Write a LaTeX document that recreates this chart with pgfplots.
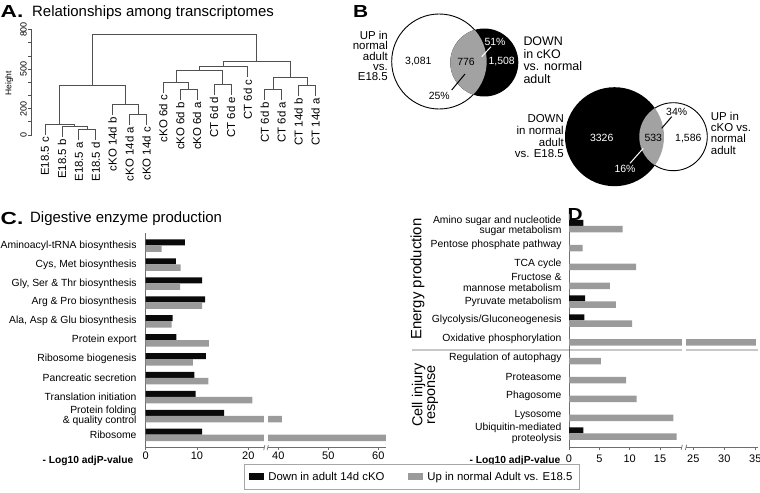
\documentclass[border=0pt]{standalone}
\usepackage{fontspec}
\setmainfont{Liberation Sans}
\usepackage{graphicx}
\usepackage{pgfplots}
\usepackage{pgfplotstable}
\pgfplotsset{compat=1.18}
\definecolor{barblack}{HTML}{0A0A0A}
\definecolor{bargray}{HTML}{9B9B9B}
\definecolor{venngray}{HTML}{A2A2A2}
\definecolor{axgray}{HTML}{6E6E6E}
\definecolor{dendro}{HTML}{505050}
\newcommand\fs[2]{\fontsize{#1}{#2}\selectfont}
\pgfplotsset{dline/.style={draw=dendro,solid,line width=0.75bp,mark=none}}

% Panel C: -log10 adjP ; y = row position (10 = top)
\pgfplotstableread{
y down up
10 7.66 3.1
9 5.9 6.8
8 11.0 6.7
7 11.6 11.0
6 5.25 5.05
5 6.0 12.3
4 11.75 9.2
3 9.5 12.2
2 9.75 20.8
1 15.3 40.7
0 11.0 61.5
}\Cdata

% Panel D
\pgfplotstableread{
y down up
11 2.36 8.84
10 nan 2.25
9 nan 11.04
8 nan 6.75
7 2.64 7.74
6 2.53 10.4
5 nan 35.1
4 nan 5.27
3 nan 9.39
2 nan 11.15
1 nan 17.19
0 2.36 17.74
}\Ddata

\begin{document}
\begin{tikzpicture}
\useasboundingbox (0,0) rectangle (760bp,493bp);

%================ canvas (pixel coordinates) =================
\begin{axis}[at={(0bp,0bp)},anchor=south west,scale only axis,
  width=760bp,height=493bp,xmin=0,xmax=760,ymin=0,ymax=493,
  y dir=reverse,hide axis,clip=false]
% titles
\node[anchor=base west,inner sep=0pt,font={\fs{17.5}{17.5}\bfseries}] at (axis cs:0.5,17.3) {\scalebox{1.3}[1]{A.}};
\node[anchor=base west,inner sep=0pt,font=\fs{15}{15}] at (axis cs:32,16.7) {Relationships among transcriptomes};
\node[anchor=base west,inner sep=0pt,font={\fs{17.5}{17.5}\bfseries}] at (axis cs:353,17.3) {\scalebox{1.2}[1]{B}};
\node[anchor=base west,inner sep=0pt,font={\fs{17.5}{17.5}\bfseries}] at (axis cs:0.5,224) {\scalebox{1.3}[1]{C.}};
\node[anchor=base west,inner sep=0pt,font=\fs{15}{15}] at (axis cs:30,222.7) {Digestive enzyme production};
\node[anchor=base west,inner sep=0pt,font={\fs{17.5}{17.5}\bfseries}] at (axis cs:567.5,220) {\scalebox{1.2}[1]{D}};
% dendrogram y label
\node[rotate=90,font=\fs{8.5}{8.5}] at (axis cs:9.3,83.3) {Height};

% Venn 1
\draw[black,line width=0.9bp,fill=white] (axis cs:439.2,61.5) circle[radius=47.5bp];
\fill[black] (axis cs:484.3,62.5) circle[radius=34bp];
\begin{scope}
\clip (axis cs:439.2,61.5) circle[radius=47.5bp];
\fill[venngray] (axis cs:484.3,62.5) circle[radius=34bp];
\end{scope}
\draw[white,line width=1bp] (axis cs:491,46.7) -- (axis cs:481.7,56.7);
\draw[black,line width=1bp] (axis cs:451.7,90) -- (axis cs:465,74);
\node[font=\fs{10.5}{10.5}] at (axis cs:418.3,61.7) {3,081};
\node[font=\fs{10.5}{10.5}] at (axis cs:466,61.7) {776};
\node[font=\fs{10.5}{10.5},text=white] at (axis cs:501.7,61.7) {1,508};
\node[font=\fs{10.5}{10.5},text=white] at (axis cs:495,42.3) {51\%};
\node[font=\fs{10.5}{10.5}] at (axis cs:439.3,95.7) {25\%};
\node[anchor=north east,inner sep=0pt,align=right,font=\fs{11.5}{10.2}] at (axis cs:388,31.2) {UP in\\normal\\adult\\vs.\hspace*{13bp}\\E18.5};
\node[anchor=north west,inner sep=0pt,align=left,font=\fs{12.5}{12.5}] at (axis cs:523.3,36.8) {DOWN\\in cKO\\vs. normal\\adult};

% Venn 2
\fill[black] (axis cs:614.5,136.7) circle[radius=49.5bp];
\draw[black,line width=0.9bp,fill=white] (axis cs:673.3,136.7) circle[radius=34bp];
\begin{scope}
\clip (axis cs:614.5,136.7) circle[radius=49.5bp];
\fill[venngray] (axis cs:673.3,136.7) circle[radius=34bp];
\end{scope}
\draw[black,line width=1bp] (axis cs:671.7,116.7) -- (axis cs:661.7,128.3);
\draw[white,line width=1bp] (axis cs:630,163.3) -- (axis cs:643.3,148.3);
\node[font=\fs{10.5}{10.5},text=white] at (axis cs:601.7,138.3) {3326};
\node[font=\fs{10.5}{10.5}] at (axis cs:653.3,138.3) {533};
\node[font=\fs{10.5}{10.5}] at (axis cs:688.3,138.3) {1,586};
\node[font=\fs{10.5}{10.5}] at (axis cs:676.7,111.7) {34\%};
\node[font=\fs{10.5}{10.5},text=white] at (axis cs:625,169.3) {16\%};
\node[anchor=north east,inner sep=0pt,align=right,font=\fs{11.5}{11.7}] at (axis cs:564,114.8) {DOWN\\in normal\\adult\\vs. E18.5};
\node[anchor=north west,inner sep=0pt,align=left,font=\fs{11.5}{11.5}] at (axis cs:710.7,111.5) {UP in\\cKO vs.\\normal\\adult};

% axis titles of C and D
\node[anchor=east,inner sep=0pt,font={\fs{10.3}{10.3}\bfseries}] at (axis cs:133.5,460.5) {- Log10 adjP-value};
\node[anchor=east,inner sep=0pt,font={\fs{10.3}{10.3}\bfseries}] at (axis cs:560.5,460.5) {- Log10 adjP-value};
% D group labels and separator
\node[rotate=90,font=\fs{15}{15}] at (axis cs:417.5,279) {Energy production};
\node[rotate=90,align=center,font=\fs{14.5}{13}] at (axis cs:425,395) {Cell injury\\response};
\draw[black!22,line width=1.6bp] (axis cs:412,350) -- (axis cs:681.7,350);
\draw[black!22,line width=1.6bp] (axis cs:686,350) -- (axis cs:758,350);
\end{axis}

%================ Panel A: dendrogram =================
\begin{axis}[at={(31.7bp,358bp)},anchor=south west,scale only axis,
  width=292.2bp,height=105.5bp,xmin=0.213,xmax=17.5,ymin=0,ymax=800,
  clip=false,axis x line=none,axis y line*=left,
  y axis line style={-,draw=dendro,line width=0.7bp},
  ytick={0,100,...,800},yticklabels={0,,200,,,500,,,800},
  tick align=outside,major tick length=3.3bp,
  ytick style={draw=dendro,line width=0.7bp},
  yticklabel style={rotate=90,anchor=south,inner sep=1.5bp,font=\fs{9}{9}}]
\addplot[dline] coordinates {(3,-37) (3,43) (4,43) (4,-37)};
\addplot[dline] coordinates {(2,-17) (2,63) (3.5,63) (3.5,43)};
\addplot[dline] coordinates {(1,1) (1,81) (2.75,81) (2.75,63)};
\addplot[dline] coordinates {(6,77) (6,157) (7,157) (7,77)};
\addplot[dline] coordinates {(5,152) (5,232) (6.5,232) (6.5,157)};
\addplot[dline] coordinates {(1.875,81) (1.875,373) (5.75,373) (5.75,232)};
\addplot[dline] coordinates {(9,266) (9,346) (10,346) (10,266)};
\addplot[dline] coordinates {(8,319) (8,399) (9.5,399) (9.5,346)};
\addplot[dline] coordinates {(11,306) (11,386) (12,386) (12,306)};
\addplot[dline] coordinates {(8.75,399) (8.75,492) (11.5,492) (11.5,386)};
\addplot[dline] coordinates {(10.125,492) (10.125,518) (13,518) (13,438)};
\addplot[dline] coordinates {(14,268) (14,348) (15,348) (15,268)};
\addplot[dline] coordinates {(16,293) (16,373) (17,373) (17,293)};
\addplot[dline] coordinates {(14.5,348) (14.5,434) (16.5,434) (16.5,373)};
\addplot[dline] coordinates {(11.5625,518) (11.5625,561) (15.5,561) (15.5,434)};
\addplot[dline] coordinates {(3.8125,373) (3.8125,763) (13.53125,763) (13.53125,561)};
\foreach \i/\h/\t in {1/1/E18.5 c,2/-17/E18.5 b,3/-37/E18.5 a,4/-37/E18.5 d,
  5/152/cKO 14d b,6/77/cKO 14d a,7/77/cKO 14d c,8/319/cKO 6d c,9/266/cKO 6d b,
  10/266/cKO 6d a,11/306/CT 6d d,12/306/CT 6d e,13/438/CT 6d c,14/268/CT 6d b,
  15/268/CT 6d a,16/293/CT 14d b,17/293/CT 14d a}{
  \edef\temp{\noexpand\node[rotate=90,anchor=east,inner sep=2bp,font=\noexpand\fs{11.5}{11.5}] at (axis cs:\i,\h) {\t};}
  \temp
}
\end{axis}

%================ Panel C =================
\begin{axis}[at={(145.7bp,45.3bp)},anchor=south west,scale only axis,
  width=240.6bp,height=214.7bp,xmin=0,xmax=46.9,ymin=-0.687,ymax=10.66,
  xbar,clip=false,
  axis x line*=bottom,axis y line*=left,
  axis line style={-,draw=axgray,line width=0.9bp},
  xtick={0,10,20,25.85,35.59,45.34},xticklabels={0,10,20,40,50,60},
  ytick={0,...,10},
  yticklabels={Ribosome,{Protein folding\\\& quality control},Translation initiation,Pancreatic secretion,Ribosome biogenesis,Protein export,{Ala, Asp \& Glu biosynthesis},{Arg \& Pro biosynthesis},{Gly, Ser \& Thr biosynthesis},{Cys, Met biosynthesis},Aminoacyl-tRNA biosynthesis},
  tick align=outside,major tick length=2.5bp,
  xtick style={draw=axgray,line width=0.8bp},ytick style={draw=none},
  xticklabel style={font=\fs{11}{11},inner sep=1bp},
  yticklabel style={font=\fs{10.4}{10.7},align=right,inner sep=0pt,xshift=-6.5bp},
  legend columns=2,legend cell align=left,
  legend image code/.code={\fill[#1] (0bp,-3.3bp) rectangle (15bp,3.3bp);},
  legend style={at={(0.4086,-0.0759)},anchor=north west,draw=black!35,line width=0.6bp,
    font=\fs{11.4}{12},inner xsep=5bp,inner ysep=5.5bp,
    /tikz/every odd column/.append style={column sep=2bp},
    /tikz/every even column/.append style={column sep=22bp}}]
\addplot[draw=none,fill=barblack,bar width=6bp,bar shift=3bp] table[x=down,y=y]{\Cdata};
\addlegendentry{Down in adult 14d cKO}
\addplot[draw=none,fill=bargray,bar width=6.5bp,bar shift=-3.25bp] table[x expr={\thisrow{up}>30 ? (132.6+5*(\thisrow{up}-40))/5.13 : \thisrow{up}},y=y]{\Cdata};
\addlegendentry{Up in normal Adult vs. E18.5}
\fill[white] (axis cs:23.12,-0.45) rectangle (axis cs:23.78,1.45);
\fill[white] (axis cs:23.12,-0.687) ++(0bp,-1.5bp) rectangle ++(3.4bp,3bp);
\draw[axgray,line width=0.7bp] (axis cs:23.12,-0.687) ++(-0.6bp,-2.5bp) -- ++(1.2bp,5bp);
\draw[axgray,line width=0.7bp] (axis cs:23.78,-0.687) ++(-0.6bp,-2.5bp) -- ++(1.2bp,5bp);
\end{axis}

%================ Panel D =================
\begin{axis}[at={(569bp,45.7bp)},anchor=south west,scale only axis,
  width=189.4bp,height=233bp,xmin=0,xmax=31.2,ymin=-0.737,ymax=11.62,
  xbar,clip=false,
  axis x line*=bottom,axis y line*=left,
  axis line style={-,draw=axgray,line width=0.9bp},
  xtick={0,5,10,15,20.48,25.58,30.69},xticklabels={0,5,10,15,25,30,35},
  ytick={0,...,11},
  yticklabels={{Ubiquitin-mediated\\proteolysis},Lysosome,Phagosome,Proteasome,Regulation of autophagy,Oxidative phosphorylation,Glycolysis/Gluconeogenesis,Pyruvate metabolism,{Fructose \&\\mannose metabolism},TCA cycle,Pentose phosphate pathway,{Amino sugar and nucleotide\\sugar metabolism}},
  tick align=outside,major tick length=2.5bp,
  xtick style={draw=axgray,line width=0.8bp},ytick style={draw=none},
  xticklabel style={font=\fs{11}{11},inner sep=1bp,yshift=-4bp},
  yticklabel style={font=\fs{10.4}{10.7},align=right,inner sep=0pt,xshift=-4.8bp}]
\addplot[draw=none,fill=barblack,bar width=6bp,bar shift=3bp] table[x=down,y=y]{\Ddata};
\addplot[draw=none,fill=bargray,bar width=6.5bp,bar shift=-3.25bp] table[x expr={\thisrow{up}>20 ? (124.3+6.2*(\thisrow{up}-25))/6.07 : \thisrow{up}},y=y]{\Ddata};
\fill[white] (axis cs:18.57,4.4) rectangle (axis cs:19.28,5.2);
\fill[white] (axis cs:18.57,-0.737) ++(0bp,-1.5bp) rectangle ++(4.3bp,3bp);
\draw[axgray,line width=0.7bp] (axis cs:18.57,-0.737) ++(-0.6bp,-2.5bp) -- ++(1.2bp,5bp);
\draw[axgray,line width=0.7bp] (axis cs:19.28,-0.737) ++(-0.6bp,-2.5bp) -- ++(1.2bp,5bp);
\end{axis}
\end{tikzpicture}
\end{document}
